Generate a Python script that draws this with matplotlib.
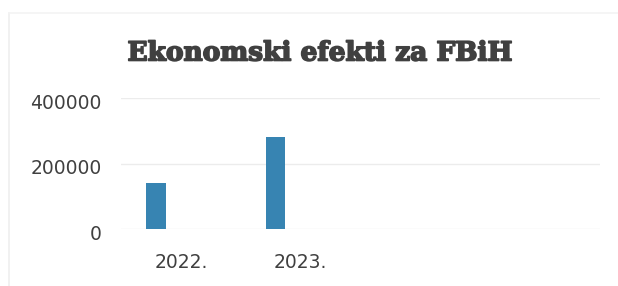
import matplotlib.pyplot as plt
import matplotlib.patheffects as pe
import matplotlib.transforms as mtransforms
from matplotlib.lines import Line2D

# data
years = ['2022.', '2023.', '', '']
values = [140000, 281000, 0, 0]
yticks = [0, 200000, 400000]

text_col = '#404040'
bar_col = '#3784B2'

fig = plt.figure(figsize=(6.18, 2.86), dpi=100)
W, H = 618, 286
ax = fig.add_axes([121 / W, 1 - 229 / H, (600 - 121) / W, (229 - 98) / H])

# faint chart frame (left and top only)
fig.lines.append(Line2D([9 / W, 9 / W], [0, 1 - 13 / H], transform=fig.transFigure,
                        color='#efefef', linewidth=1.2))
fig.lines.append(Line2D([9 / W, 1], [1 - 13 / H, 1 - 13 / H], transform=fig.transFigure,
                        color='#f3f3f3', linewidth=1.2))

x = range(len(years))
ax.bar([i - 0.21 for i in x if values[i] > 0], [v for v in values if v > 0],
       width=0.165, color=bar_col, zorder=3)

ax.set_xlim(-0.5, len(years) - 0.5)
ax.set_ylim(0, 400000)
ax.set_yticks(yticks)
ax.set_yticklabels([str(t) for t in yticks])
ax.set_xticks([0, 1])
ax.set_xticklabels(years[:2])
ax.tick_params(length=0, labelsize=13.5, labelcolor=text_col)
ax.tick_params(axis='x', pad=17)
ax.tick_params(axis='y', pad=14)

# nudge y labels slightly below their gridlines
shift = mtransforms.ScaledTranslation(0, -3 / 100, fig.dpi_scale_trans)
for lab in ax.get_yticklabels():
    lab.set_transform(lab.get_transform() + shift)

ax.grid(axis='y', color='#ececec', linewidth=1, zorder=0)
for s in ax.spines.values():
    s.set_visible(False)

fig.text(320 / W, 1 - 53 / H, 'Ekonomski efekti za FBiH', ha='center', va='center',
         fontsize=19, fontweight='bold', family='DejaVu Serif', color=text_col,
         path_effects=[pe.withStroke(linewidth=1.2, foreground=text_col)])

fig.savefig('out.png', dpi=100)
